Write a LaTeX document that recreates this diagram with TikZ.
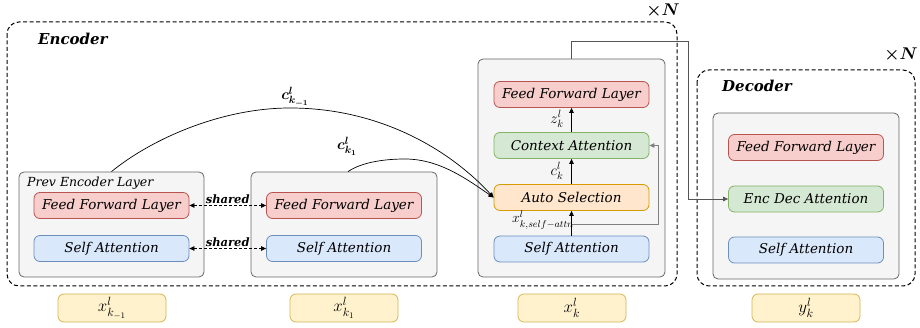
\RequirePackage{fix-cm}
\documentclass[tikz,border=0pt]{standalone}
\usepackage{amsmath,bm}
\usepackage{fontspec}
\setmainfont{DejaVu Serif}
\usetikzlibrary{arrows.meta}
\definecolor{ffFill}{HTML}{F8CECC}\definecolor{ffDraw}{HTML}{B85450}
\definecolor{saFill}{HTML}{DAE8FC}\definecolor{saDraw}{HTML}{6C8EBF}
\definecolor{grFill}{HTML}{D5E8D4}\definecolor{grDraw}{HTML}{82B366}
\definecolor{asFill}{HTML}{FFE6CC}\definecolor{asDraw}{HTML}{D79B00}
\definecolor{yeFill}{HTML}{FFF2CC}\definecolor{yeDraw}{HTML}{D6B656}
\definecolor{bxFill}{HTML}{F5F5F5}\definecolor{bxDraw}{HTML}{666666}
\definecolor{lnGray}{HTML}{555555}
\tikzset{
  blk/.style={draw, rounded corners=6pt, line width=0.8pt, minimum width=155pt, minimum height=26pt, inner sep=0pt,
    font=\fontsize{13.5}{15}\selectfont\itshape},
  ffl/.style={blk, fill=ffFill, draw=ffDraw},
  sal/.style={blk, fill=saFill, draw=saDraw},
  grl/.style={blk, fill=grFill, draw=grDraw},
  asl/.style={blk, fill=asFill, draw=asDraw},
  inp/.style={draw=yeDraw, fill=yeFill, rounded corners=6pt, line width=0.8pt, minimum width=108pt, minimum height=28pt, inner sep=0pt,
    font=\fontsize{17}{19}\selectfont},
  grbox/.style={draw=bxDraw, fill=bxFill, rounded corners=5pt, line width=0.8pt, inner sep=0pt},
  dbox/.style={draw, dashed, line width=1pt, rounded corners=12pt, dash pattern=on 4pt off 2.5pt},
  arr/.style={-{Triangle[length=5pt,width=4.5pt]}, line width=0.7pt},
  sharr/.style={{Triangle[length=5pt,width=4.5pt]}-{Triangle[length=5pt,width=4.5pt]}, dashed, line width=0.8pt, dash pattern=on 3pt off 2pt},
  lbl/.style={inner sep=0pt, font=\fontsize{15}{17}\selectfont},
  shl/.style={inner sep=1pt, font=\fontsize{11.5}{13}\selectfont\bfseries\itshape},
  ttl/.style={inner sep=0pt, font=\fontsize{15}{18}\selectfont\bfseries\itshape}
}
\begin{document}
\begin{tikzpicture}[x=1pt,y=-1pt]
\useasboundingbox (0,0) rectangle (920,328);
% dashed outer boxes
\draw[dbox] (7,22) rectangle (677,286);
\draw[dbox] (697,70) rectangle (915,286);
\node[ttl, anchor=west] (enc) at (38,39) {Encoder};
\node[ttl, anchor=west] (dec) at (722,86) {Decoder};
\node[ttl, font=\fontsize{17}{18}\selectfont] (n1) at (663,11) {$\bm{\times N}$};
\node[ttl, font=\fontsize{17}{18}\selectfont] (n2) at (901,55) {$\bm{\times N}$};
% grey boxes
\node[grbox, minimum width=185pt, minimum height=105pt] (prev) at (111.5,224.5) {};
\node[grbox, minimum width=186pt, minimum height=105pt] (box2) at (344,224.5) {};
\node[grbox, minimum width=187pt, minimum height=218pt] (box3) at (571.5,168) {};
\node[grbox, minimum width=186pt, minimum height=166pt] (box4) at (806,196) {};
\node[inner sep=0pt, anchor=west, font=\fontsize{12.5}{14}\selectfont\itshape] (plbl) at (27,183) {Prev Encoder Layer};
% inner blocks
\node[ffl] (ff1) at (111.5,205.5) {Feed Forward Layer};
\node[sal] (sa1) at (111.5,248.5) {Self Attention};
\node[ffl] (ff2) at (344,205.5) {Feed Forward Layer};
\node[sal] (sa2) at (344,248.5) {Self Attention};
\node[ffl] (ff3) at (571.5,94.5) {Feed Forward Layer};
\node[grl] (ca) at (571.5,145.5) {Context Attention};
\node[asl] (as) at (571.5,197.5) {Auto Selection};
\node[sal] (sa3) at (571.5,249) {Self Attention};
\node[ffl] (ff4) at (806,147.5) {Feed Forward Layer};
\node[grl] (eda) at (806,199) {Enc Dec Attention};
\node[sal] (sa4) at (806,250) {Self Attention};
% inputs
\node[inp] (x1) at (112,308) {$x^{l}_{k_{-1}}$};
\node[inp] (x2) at (344,308) {$x^{l}_{k_{1}}$};
\node[inp] (x3) at (572,308) {$x^{l}_{k}$};
\node[inp] (y4) at (806,308) {$y^{l}_{k}$};
% shared arrows
\draw[sharr] (ff1.east) -- node[shl, above] (sh1) {shared} (ff2.west);
\draw[sharr] (sa1.east) -- node[shl, above] (sh2) {shared} (sa2.west);
% curves
\coordinate (pk1) at (290,108);
\coordinate (pk2) at (405,159);
\draw[arr] (prev.north) .. controls (150,140) and (220,108) .. (pk1) .. controls (380,108) and (450,150) .. (as.west);
\draw[arr] ([xshift=4pt]box2.north) .. controls (362,162) and (385,159) .. (pk2) .. controls (440,159) and (468,180) .. (as.west);
\node[lbl] (c1) at (295,97) {$\bm{c^{l}_{k_{-1}}}$};
\node[lbl] (c2) at (347,146) {$\bm{c^{l}_{k_{1}}}$};
% inside box3
\draw[arr] (sa3.north) -- (as.south);
\draw[arr] (as.north) -- (ca.south);
\draw[arr] (ca.north) -- (ff3.south);
\coordinate (br) at (571.5,224);
\coordinate (brr) at (658,224);
\draw[arr, draw=gray, line width=0.8pt] (br) -- (brr) |- (ca.east);
\node[lbl, anchor=east, font=\fontsize{14}{16}\selectfont] (xl) at (574,220) {$x^{l}_{k,self-attn}$};
\node[lbl] (cl) at (557,171) {$c^{l}_{k}$};
\node[lbl] (zl) at (557,119) {$z^{l}_{k}$};
% encoder to decoder
\coordinate (t1) at (571.5,41);
\coordinate (t2) at (688,41);
\draw[arr, draw=lnGray] (box3.north) -- (t1) -- (t2) |- (eda.west);
\end{tikzpicture}
\end{document}
